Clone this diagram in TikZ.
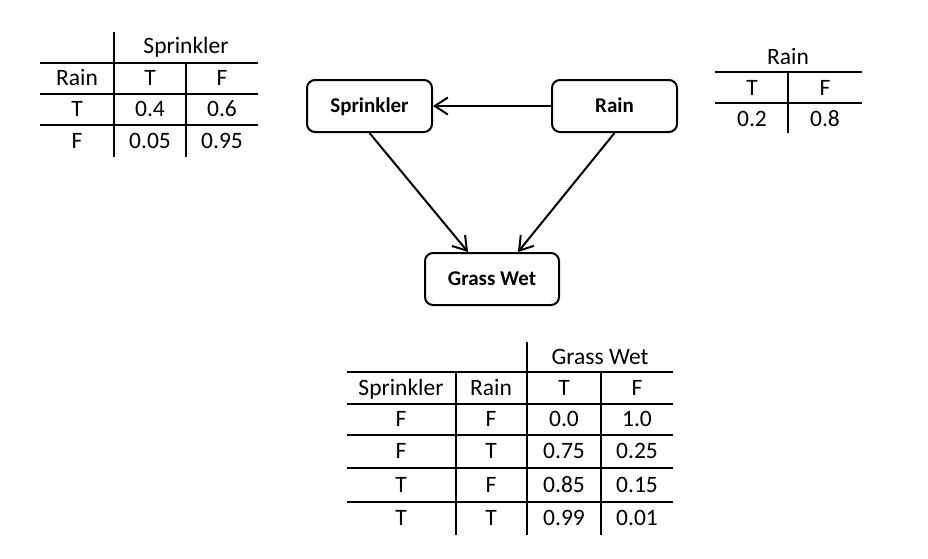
\documentclass[tikz,border=0pt]{standalone}
\usepackage{fontspec}
\setmainfont{Carlito}
\usetikzlibrary{arrows.meta}
\begin{document}
\begin{tikzpicture}[x=1pt,y=-1pt,
  box/.style={draw, line width=2pt, rounded corners=8pt, font=\fontsize{21}{25}\selectfont\bfseries, minimum height=52pt, inner sep=0pt, text height=13.5pt, text depth=0pt},
  tl/.style={line width=2.5pt},
  cell/.style={font=\fontsize{23.5}{28}\selectfont, inner sep=0pt, text height=15pt, text depth=0pt, anchor=center},
  arr/.style={line width=2pt, -{Straight Barb[length=13pt,width=17pt,line width=2pt]}}]
\useasboundingbox (0,0) rectangle (928,558);

% network nodes
\node[box, minimum width=125pt] (s) at (369.5,106) {Sprinkler};
\node[box, minimum width=125pt] (r) at (614.5,106) {Rain};
\node[box, minimum width=134pt] (g) at (492,279) {Grass Wet};
\draw[arr] (r.west) -- (s.east);
\draw[arr] (s.south) -- ([xshift=-24pt]g.north);
\draw[arr] (r.south) -- ([xshift=26pt]g.north);

% Sprinkler CPT
\draw[tl] (114,32) -- (114,157);
\draw[tl] (186,63) -- (186,157);
\draw[tl] (40,63) -- (258,63);
\draw[tl] (40,94) -- (258,94);
\draw[tl] (40,125) -- (258,125);
\node[cell] (s1) at (186,46) {Sprinkler};
\node[cell] (s2) at (77,78) {Rain};
\node[cell] (s3) at (150,78) {T};
\node[cell] (s4) at (222,78) {F};
\node[cell] (s5) at (77,109) {T};
\node[cell] (s6) at (150,109) {0.4};
\node[cell] (s7) at (222,109) {0.6};
\node[cell] (s8) at (77,141) {F};
\node[cell] (s9) at (150,141) {0.05};
\node[cell] (s10) at (222,141) {0.95};

% Rain CPT
\draw[tl] (715,72) -- (862,72);
\draw[tl] (715,103) -- (862,103);
\draw[tl] (788,72) -- (788,133);
\node[cell] (r1) at (788,57) {Rain};
\node[cell] (r2) at (752,88) {T};
\node[cell] (r3) at (825,88) {F};
\node[cell] (r4) at (752,119) {0.2};
\node[cell] (r5) at (825,119) {0.8};

% Grass Wet CPT
\draw[tl] (527,342) -- (527,535);
\draw[tl] (456,372) -- (456,535);
\draw[tl] (601,372) -- (601,535);
\foreach \yy in {372,404,435,468,502} \draw[tl] (347,\yy) -- (673,\yy);
\node[cell] (g0) at (600,357) {Grass Wet};
\node[cell] (g1) at (401,388) {Sprinkler};
\node[cell] (g2) at (491,388) {Rain};
\node[cell] (g3) at (564,388) {T};
\node[cell] (g4) at (637,388) {F};
\node[cell] (ga1) at (401,419) {F};
\node[cell] (ga2) at (491,419) {F};
\node[cell] (ga3) at (564,419) {0.0};
\node[cell] (ga4) at (637,419) {1.0};
\node[cell] (gb1) at (401,451) {F};
\node[cell] (gb2) at (491,451) {T};
\node[cell] (gb3) at (564,451) {0.75};
\node[cell] (gb4) at (637,451) {0.25};
\node[cell] (gc1) at (401,485) {T};
\node[cell] (gc2) at (491,485) {F};
\node[cell] (gc3) at (564,485) {0.85};
\node[cell] (gc4) at (637,485) {0.15};
\node[cell] (gd1) at (401,518) {T};
\node[cell] (gd2) at (491,518) {T};
\node[cell] (gd3) at (564,518) {0.99};
\node[cell] (gd4) at (637,518) {0.01};
\end{tikzpicture}
\end{document}
